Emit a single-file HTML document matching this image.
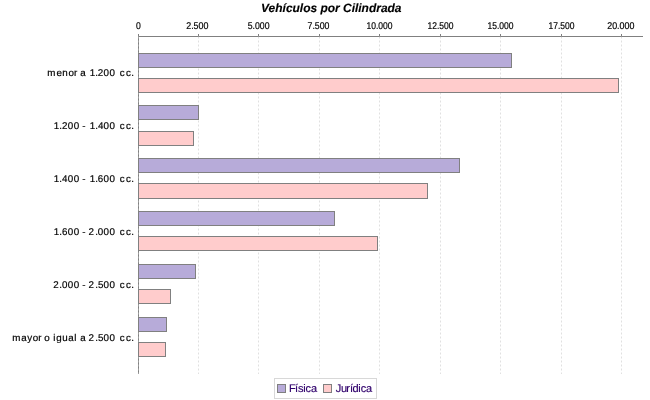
<!DOCTYPE html>
<html lang="es"><head><meta charset="utf-8"><title>Vehículos por Cilindrada</title>
<style>html,body{margin:0;padding:0;background:#fff;}body{width:650px;height:400px;overflow:hidden;}svg{display:block;will-change:transform;}text{font-family:"Liberation Sans",sans-serif;white-space:pre;text-rendering:geometricPrecision;}</style></head><body>
<svg width="650" height="400" viewBox="0 0 650 400">
<rect x="0" y="0" width="650" height="400" fill="#ffffff"/>
<line x1="138" y1="36.5" x2="643" y2="36.5" stroke="#808080" stroke-width="1"/>
<line x1="138.5" y1="36" x2="138.5" y2="374" stroke="#808080" stroke-width="1"/>
<line x1="138.5" y1="36.5" x2="138.5" y2="374" stroke="#C0C0C0" stroke-width="0.5" stroke-dasharray="2,2"/>
<line x1="198.5" y1="36.5" x2="198.5" y2="374" stroke="#C0C0C0" stroke-width="0.5" stroke-dasharray="2,2"/>
<line x1="258.5" y1="36.5" x2="258.5" y2="374" stroke="#C0C0C0" stroke-width="0.5" stroke-dasharray="2,2"/>
<line x1="319.5" y1="36.5" x2="319.5" y2="374" stroke="#C0C0C0" stroke-width="0.5" stroke-dasharray="2,2"/>
<line x1="379.5" y1="36.5" x2="379.5" y2="374" stroke="#C0C0C0" stroke-width="0.5" stroke-dasharray="2,2"/>
<line x1="440.5" y1="36.5" x2="440.5" y2="374" stroke="#C0C0C0" stroke-width="0.5" stroke-dasharray="2,2"/>
<line x1="500.5" y1="36.5" x2="500.5" y2="374" stroke="#C0C0C0" stroke-width="0.5" stroke-dasharray="2,2"/>
<line x1="561.5" y1="36.5" x2="561.5" y2="374" stroke="#C0C0C0" stroke-width="0.5" stroke-dasharray="2,2"/>
<line x1="621.5" y1="36.5" x2="621.5" y2="374" stroke="#C0C0C0" stroke-width="0.5" stroke-dasharray="2,2"/>
<rect x="138.5" y="53.5" width="373" height="14" fill="#B7ABD9" stroke="#808080" stroke-width="1"/>
<rect x="138.5" y="78.5" width="480" height="14" fill="#FFCCCC" stroke="#808080" stroke-width="1"/>
<rect x="138.5" y="105.5" width="60" height="14" fill="#B7ABD9" stroke="#808080" stroke-width="1"/>
<rect x="138.5" y="131.5" width="55" height="14" fill="#FFCCCC" stroke="#808080" stroke-width="1"/>
<rect x="138.5" y="158.5" width="321" height="14" fill="#B7ABD9" stroke="#808080" stroke-width="1"/>
<rect x="138.5" y="183.5" width="289" height="15" fill="#FFCCCC" stroke="#808080" stroke-width="1"/>
<rect x="138.5" y="211.5" width="196" height="14" fill="#B7ABD9" stroke="#808080" stroke-width="1"/>
<rect x="138.5" y="236.5" width="239" height="14" fill="#FFCCCC" stroke="#808080" stroke-width="1"/>
<rect x="138.5" y="264.5" width="57" height="14" fill="#B7ABD9" stroke="#808080" stroke-width="1"/>
<rect x="138.5" y="289.5" width="32" height="14" fill="#FFCCCC" stroke="#808080" stroke-width="1"/>
<rect x="138.5" y="317.5" width="28" height="14" fill="#B7ABD9" stroke="#808080" stroke-width="1"/>
<rect x="138.5" y="342.5" width="27" height="14" fill="#FFCCCC" stroke="#808080" stroke-width="1"/>
<line x1="138.5" y1="34" x2="138.5" y2="36" stroke="#808080" stroke-width="1"/>
<text x="135.95" y="28.85" font-size="9.8" textLength="4.8" lengthAdjust="spacingAndGlyphs" fill="#000" stroke="#000" stroke-width="0.2">0</text>
<line x1="198.5" y1="34" x2="198.5" y2="36" stroke="#808080" stroke-width="1"/>
<text x="186.2" y="28.85" font-size="9.8" textLength="22.3" lengthAdjust="spacingAndGlyphs" fill="#000" stroke="#000" stroke-width="0.2">2.500</text>
<line x1="258.5" y1="34" x2="258.5" y2="36" stroke="#808080" stroke-width="1"/>
<text x="247.7" y="28.85" font-size="9.8" textLength="21.8" lengthAdjust="spacingAndGlyphs" fill="#000" stroke="#000" stroke-width="0.2">5.000</text>
<line x1="319.5" y1="34" x2="319.5" y2="36" stroke="#808080" stroke-width="1"/>
<text x="307.5" y="28.85" font-size="9.8" textLength="22" lengthAdjust="spacingAndGlyphs" fill="#000" stroke="#000" stroke-width="0.2">7.500</text>
<line x1="379.5" y1="34" x2="379.5" y2="36" stroke="#808080" stroke-width="1"/>
<text x="366.5" y="28.85" font-size="9.8" textLength="26.0" lengthAdjust="spacingAndGlyphs" fill="#000" stroke="#000" stroke-width="0.2">10.000</text>
<line x1="440.5" y1="34" x2="440.5" y2="36" stroke="#808080" stroke-width="1"/>
<text x="427.5" y="28.85" font-size="9.8" textLength="26.0" lengthAdjust="spacingAndGlyphs" fill="#000" stroke="#000" stroke-width="0.2">12.500</text>
<line x1="500.5" y1="34" x2="500.5" y2="36" stroke="#808080" stroke-width="1"/>
<text x="487.5" y="28.85" font-size="9.8" textLength="26.0" lengthAdjust="spacingAndGlyphs" fill="#000" stroke="#000" stroke-width="0.2">15.000</text>
<line x1="561.5" y1="34" x2="561.5" y2="36" stroke="#808080" stroke-width="1"/>
<text x="548.5" y="28.85" font-size="9.8" textLength="26.0" lengthAdjust="spacingAndGlyphs" fill="#000" stroke="#000" stroke-width="0.2">17.500</text>
<line x1="621.5" y1="34" x2="621.5" y2="36" stroke="#808080" stroke-width="1"/>
<text x="607.2" y="28.85" font-size="9.8" textLength="27.2" lengthAdjust="spacingAndGlyphs" fill="#000" stroke="#000" stroke-width="0.2">20.000</text>
<text x="47.37 56.48 62.27 68.47 73.97 77.24 80.17 85.62 89.70 95.24 97.87 103.62 109.47 114.93 119.67 125.97 131.34" y="76" font-size="9.8" fill="#000" stroke="#000" stroke-width="0.18">menor a 1.200 cc.</text>
<text x="53.65 59.24 61.97 67.77 73.67 79.13 82.27 85.53 89.70 95.24 97.91 103.62 109.47 114.93 119.67 125.97 131.34" y="129" font-size="9.8" fill="#000" stroke="#000" stroke-width="0.18">1.200 - 1.400 cc.</text>
<text x="53.65 59.24 62.01 67.77 73.67 79.13 82.27 85.53 89.70 95.24 97.84 103.62 109.47 114.93 119.67 125.97 131.34" y="182" font-size="9.8" fill="#000" stroke="#000" stroke-width="0.18">1.400 - 1.600 cc.</text>
<text x="53.65 59.24 61.94 67.77 73.67 79.13 82.27 85.53 88.57 95.24 97.87 103.62 109.47 114.93 119.67 125.97 131.34" y="235" font-size="9.8" fill="#000" stroke="#000" stroke-width="0.18">1.600 - 2.000 cc.</text>
<text x="53.27 59.24 61.97 67.77 73.67 79.13 82.27 85.53 88.57 95.24 97.88 103.62 109.47 114.93 119.67 125.97 131.34" y="288" font-size="9.8" fill="#000" stroke="#000" stroke-width="0.18">2.000 - 2.500 cc.</text>
<text x="12.22 21.17 27.25 32.67 38.32 41.59 44.37 49.83 53.36 56.18 62.28 68.27 74.36 76.54 80.17 85.62 88.57 95.24 97.88 103.62 109.47 114.93 119.67 125.97 131.34" y="341" font-size="9.8" fill="#000" stroke="#000" stroke-width="0.18">mayor o igual a 2.500 cc.</text>
<text x="261.1" y="11.9" font-size="12" font-weight="bold" font-style="italic" textLength="140.4" lengthAdjust="spacingAndGlyphs" fill="#000" stroke="#000" stroke-width="0.15">Vehículos por Cilindrada</text>
<rect x="274.5" y="378.5" width="102" height="20" fill="#fff" stroke="#d8d8d8" stroke-width="1"/>
<rect x="277.5" y="384.5" width="8" height="8" fill="#B7ABD9" stroke="#808080" stroke-width="1"/>
<text x="289.10 294.96 297.95 303.26 305.46 310.91" y="391.75" font-size="11" fill="#30006C" stroke="#30006C" stroke-width="0.15">Física</text>
<rect x="323.5" y="384.5" width="8" height="8" fill="#FFCCCC" stroke="#808080" stroke-width="1"/>
<text x="335.78 341.0 346.27 349.96 352.56 358.26 360.71 366.11" y="391.75" font-size="11" fill="#30006C" stroke="#30006C" stroke-width="0.15">Jurídica</text>
</svg></body></html>
